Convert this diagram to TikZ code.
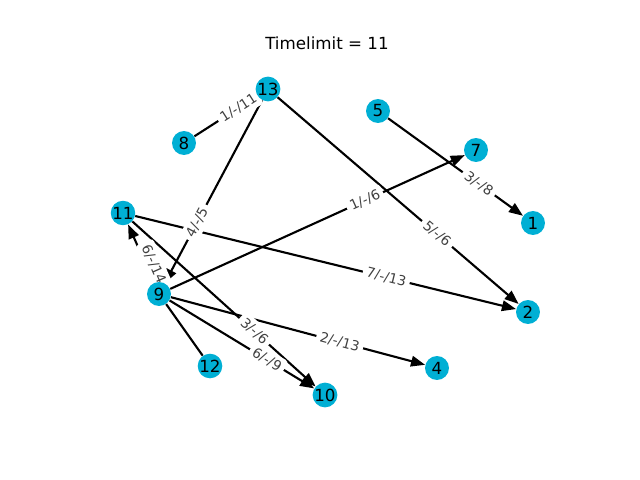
\documentclass[tikz,border=0pt]{standalone}
\usepackage{fontspec}
\setmainfont{DejaVu Sans}
\usetikzlibrary{arrows.meta,backgrounds}
\definecolor{vcol}{RGB}{0,175,212}
\definecolor{lcol}{RGB}{64,64,64}
\tikzset{
  vertex/.style={circle, fill=vcol, inner sep=0pt, minimum size=0.48cm, font=\fontsize{9.5}{10}\selectfont},
  arc/.style={line width=1.2pt, -{Triangle[length=8pt,width=6pt]}},
  line/.style={line width=1.2pt},
  elabel/.style={sloped, fill=white, text=lcol, inner sep=2.2pt, rounded corners=2pt, font=\fontsize{7.8}{8}\selectfont},
}
\begin{document}
\begin{tikzpicture}[x=0.02cm, y=-0.02cm]
      \useasboundingbox (0,0) rectangle (640,480);
      \node at (327,43){\fontsize{9.5}{10}\selectfont Timelimit = 11};

      \node[vertex] (n13) at (268, 89){13};
      \node[vertex] (n8)  at (184,143){8};
      \node[vertex] (n5)  at (378,111){5};
      \node[vertex] (n7)  at (476,150){7};
      \node[vertex] (n1)  at (533,223){1};
      \node[vertex] (n11) at (123,213){11};
      \node[vertex] (n9)  at (159,294){9};
      \node[vertex] (n2)  at (528,312){2};
      \node[vertex] (n12) at (210,366){12};
      \node[vertex] (n4)  at (437,368){4};
      \node[vertex] (n10) at (325,395){10};

      \begin{pgfonlayer}{background}
      % edges
      \draw[line](n8) to (n13);
      \draw[arc](n13) to (n9);
      \draw[arc](n13) to (n2);
      \draw[arc](n5) to (n1);
      \draw[arc](n9) to (n7);
      \draw[arc](n11) to (n2);
      \draw[arc](n9) to (n11);
      \draw[arc](n11) to (n10);
      \draw[arc](n9) to (n10);
      \draw[arc](n9) to (n4);
      \draw[line](n9) to (n12);

      % edge labels
      \path(n8.center) -- node[elabel, pos=.65]{1/-/11} (n13.center);
      \path(n13.center) -- node[elabel, pos=.65]{4/-/5} (n9.center);
      \path(n13.center) -- node[elabel, pos=.65]{5/-/6} (n2.center);
      \path(n5.center) -- node[elabel, pos=.65]{3/-/8} (n1.center);
      \path(n9.center) -- node[elabel, pos=.65]{1/-/6} (n7.center);
      \path(n11.center) -- node[elabel, pos=.65]{7/-/13} (n2.center);
      \path([xshift=0.16cm]n9.center) -- node[elabel, pos=.37]{6/-/14} ([xshift=0.16cm]n11.center);
      \path(n11.center) -- node[elabel, pos=.65]{3/-/6} (n10.center);
      \path(n9.center) -- node[elabel, pos=.65]{6/-/9} (n10.center);
      \path(n9.center) -- node[elabel, pos=.65]{2/-/13} (n4.center);
      \end{pgfonlayer}
    \end{tikzpicture}
\end{document}
